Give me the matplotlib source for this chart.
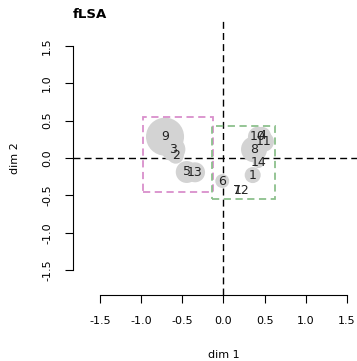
import matplotlib
matplotlib.use("Agg")
import matplotlib.pyplot as plt
from matplotlib.patches import Rectangle

# data
labels = ["1", "2", "3", "4", "5", "6", "7", "8", "9", "10", "11", "12", "13", "14"]
dim1 = [0.355, -0.581, -0.61, 0.468, -0.447, -0.015, 0.17, 0.371, -0.711, 0.419, 0.492, 0.225, -0.346, 0.423]
dim2 = [-0.228, 0.031, 0.116, 0.295, -0.187, -0.308, -0.43, 0.116, 0.285, 0.285, 0.218, -0.43, -0.191, -0.063]
bubble = [133, 133, 300, 168, 250, 100, 0, 350, 750, 207, 207, 0, 207, 60]

# cluster boxes: x0, x1, y0, y1
box1 = [-0.975, -0.131, -0.459, 0.553]
box2 = [-0.143, 0.626, -0.553, 0.432]
ticks = [-1.5, -1.0, -0.5, 0.0, 0.5, 1.0, 1.5]

W, H = 357, 361
fig = plt.figure(figsize=(W / 100, H / 100), dpi=100)
ax = fig.add_axes([73 / W, (H - 295) / H, (374 - 73) / W, (295 - 21) / H])
ax.set_xlim(-1.83, 1.83)
ax.set_ylim(-1.83, 1.83)

ax.axhline(0, color="black", lw=1, linestyle=(0, (5, 3)), zorder=1)
ax.axvline(0, color="black", lw=1, linestyle=(0, (5, 3)), zorder=1)

ax.scatter(dim1, dim2, s=bubble, color="#d3d3d3", edgecolors="none", zorder=2)
for lab, xv, yv in zip(labels, dim1, dim2):
    ax.text(xv, yv, lab, ha="center", va="center", fontsize=9, color="#222222", zorder=4)

for b, col in [(box1, "#d98fcb"), (box2, "#8cc08c")]:
    ax.add_patch(Rectangle((b[0], b[2]), b[1] - b[0], b[3] - b[2], fill=False,
                           edgecolor=col, lw=1.3, linestyle=(0, (4, 2.5)), zorder=3))

for s in ["top", "right"]:
    ax.spines[s].set_visible(False)
ax.spines["left"].set_bounds(-1.5, 1.5)
ax.spines["bottom"].set_bounds(-1.5, 1.5)
ax.set_xticks(ticks)
ax.set_yticks(ticks)
ax.set_xticklabels([f"{t:.1f}" for t in ticks], fontsize=8)
ax.set_yticklabels([f"{t:.1f}" for t in ticks], fontsize=8, rotation=90, va="center")
ax.tick_params(axis="both", length=6, width=0.8, direction="out")
ax.tick_params(axis="x", pad=9)
ax.tick_params(axis="y", pad=9)
ax.spines["left"].set_linewidth(0.8)
ax.spines["bottom"].set_linewidth(0.8)

fig.text(223.5 / W, 1 - 355 / H, "dim 1", ha="center", va="center", fontsize=8)
fig.text(15 / W, 1 - 158 / H, "dim 2", ha="center", va="center", fontsize=8, rotation=90)
fig.text(73 / W, 1 - 15 / H, "fLSA", ha="left", va="center", fontsize=9.5, fontweight="bold")

fig.savefig("out.png", dpi=100)
